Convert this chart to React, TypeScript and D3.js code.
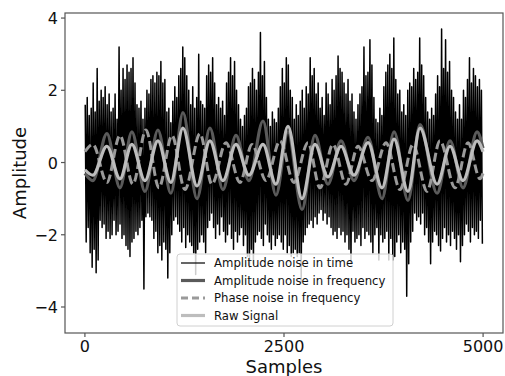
import * as d3 from "d3";

// decimated "Amplitude noise in time" series: max / min of every 25-sample bin
const noiseHi = [
  1.6, 1.8, 1.3,
  1.5, 2.2, 1.4, 2.6, 1.7,
  2.0, 1.8, 2.1, 1.6, 1.9,
  1.4, 1.5, 1.9, 1.2, 3.2,
  2.0, 2.6, 2.3, 2.7, 2.5,
  2.6, 2.9, 2.2, 1.6, 1.5,
  1.7, 1.2, 1.5, 2.0, 1.9,
  2.3, 2.4, 2.2, 2.5, 2.4,
  2.8, 2.2, 2.3, 1.4, 1.5,
  1.1, 1.7, 2.1, 1.8, 2.4,
  2.6, 3.2, 2.9, 2.4, 2.0,
  1.6, 2.1, 1.5, 1.8, 3.0,
  1.7, 1.6, 1.5, 2.4, 2.7,
  2.5, 2.9, 2.2, 1.6, 1.8,
  1.5, 1.7, 1.3, 2.2, 2.5,
  2.9, 2.4, 2.8, 2.0, 1.6,
  1.2, 1.0, 1.3, 1.5, 2.1,
  2.2, 2.6, 2.3, 2.0, 2.5,
  3.6, 2.4, 2.8, 1.8, 1.2,
  1.0, 1.4, 1.2, 1.1, 1.5,
  2.1, 2.6, 2.2, 2.9, 2.7,
  2.0, 1.8, 1.2, 1.6, 1.3,
  1.7, 2.0, 1.5, 2.1, 1.9,
  2.9, 2.4, 2.6, 1.9, 2.2,
  1.5, 1.8, 1.3, 2.2, 1.9,
  1.6, 2.3, 2.0, 2.4, 2.95,
  2.6, 2.5, 2.2, 1.9, 2.3,
  1.7, 1.9, 1.4, 1.2, 1.6,
  1.9, 2.1, 3.2, 2.4, 2.5,
  3.4, 2.7, 1.8, 1.2, 1.1,
  1.5, 1.3, 2.1, 2.5, 2.7,
  3.0, 2.6, 3.45, 2.3, 1.9,
  2.0, 1.4, 1.6, 1.3, 2.0,
  2.2, 2.1, 2.6, 2.3, 2.5,
  3.45, 2.7, 2.4, 1.8, 1.4,
  1.2, 1.5, 1.3, 1.9, 2.4,
  2.1, 3.7, 2.6, 3.4, 2.5,
  2.8, 2.0, 1.8, 1.4, 1.2,
  1.6, 1.2, 2.0, 1.8, 2.3,
  2.9, 2.2, 2.6, 2.4, 2.1,
  2.3, 2.0,
];
const noiseLo = [
  -2.2, -1.8, -2.5,
  -2.9, -2.4, -3.05, -2.7, -1.6,
  -1.8, -1.7, -2.1, -1.9, -2.1,
  -2.0, -1.6, -2.0, -1.9, -1.7,
  -2.1, -2.0, -2.3, -2.4, -2.6,
  -2.2, -2.1, -1.9, -2.0, -1.8,
  -1.6, -3.5, -1.5, -1.4, -1.5,
  -1.6, -2.1, -1.9, -2.5, -2.3,
  -2.7, -2.2, -2.4, -3.2, -2.5,
  -2.0, -1.6, -1.5, -1.7, -1.9,
  -2.2, -1.8, -2.35, -2.0, -2.2,
  -2.3, -2.5, -3.1, -2.4, -2.2,
  -2.0, -2.2, -2.5, -1.8, -1.6,
  -1.4, -1.8, -2.1, -1.7, -2.0,
  -1.5, -1.9, -2.2, -2.0, -1.7,
  -2.1, -2.4, -1.9, -2.2, -2.0,
  -1.8, -2.3, -2.0, -2.6, -2.9,
  -2.4, -2.8, -2.2, -2.0, -1.9,
  -2.1, -2.3, -1.7, -2.0, -2.2,
  -2.4, -2.0, -2.3, -2.1, -2.0,
  -2.2, -2.4, -2.0, -2.5, -2.3,
  -2.6, -2.5, -2.4, -2.6, -2.5,
  -3.3, -2.2, -2.0, -1.8, -1.7,
  -1.6, -1.8, -1.5, -1.7, -1.4,
  -1.3, -1.6, -1.4, -1.7, -1.5,
  -1.8, -2.0, -1.9, -2.1, -1.8,
  -2.0, -1.9, -2.2, -2.0, -2.4,
  -2.8, -1.9, -2.2, -2.1, -2.0,
  -2.3, -1.8, -2.1, -1.9, -2.0,
  -2.2, -2.5, -2.0, -1.8, -2.7,
  -2.0, -2.2, -2.1, -1.9, -2.7,
  -2.1, -2.7, -2.6, -2.2, -2.0,
  -2.5, -2.2, -2.4, -3.7, -2.8,
  -2.2, -1.9, -1.4, -1.6, -1.5,
  -1.7, -1.4, -2.0, -1.8, -2.2,
  -2.8, -2.2, -1.9, -2.0, -2.3,
  -2.45, -2.1, -1.8, -2.2, -2.0,
  -2.3, -1.9, -2.1, -2.4, -2.0,
  -2.75, -2.3, -2.0, -1.7, -1.9,
  -2.2, -1.8, -2.0, -1.9, -2.1,
  -1.6, -2.25,
];
const BIN = 25;

// smooth series, read at their turning points
const rawSamples = [0, 100, 276, 440, 590, 754, 917, 1080, 1231, 1407, 1570, 1733, 1897, 2060, 2236, 2399, 2550, 2726, 2889, 3052, 3216, 3379, 3555, 3731, 3882, 4057, 4208, 4422, 4585, 4748, 4924, 4999];
const rawValues = [-0.2, -0.35, 0.45, -0.45, 0.5, -0.5, 0.6, -0.55, 0.95, -0.65, 0.6, -0.5, 0.5, -0.35, 0.5, -0.6, 1.0, -1.0, 0.5, -0.4, 0.45, -0.35, 0.55, -0.7, 0.65, -0.8, 0.95, -0.6, 0.45, -0.5, 0.6, 0.3];
const ampFreqValues = [-0.3, -0.5, 0.8, -0.7, 0.85, -0.8, 0.9, -0.85, 1.38, -1.0, 0.95, -0.75, 0.75, -0.5, 1.15, -0.9, 0.85, -1.3, 0.75, -0.6, 0.6, -0.5, 0.7, -1.0, 0.85, -1.05, 1.05, -0.85, 0.6, -0.7, 0.85, 0.4];
const phaseSamples = [0, 100, 276, 440, 603, 766, 930, 1093, 1256, 1445, 1595, 1771, 1947, 2098, 2274, 2450, 2625, 2801, 2952, 3115, 3278, 3429, 3605, 3781, 3957, 4120, 4296, 4459, 4647, 4811, 4961, 4999];
const phaseValues = [0.3, 0.5, -0.55, 0.75, -0.6, 0.9, -0.7, 0.75, -0.75, 0.8, -0.6, 0.55, -0.55, 0.5, -0.5, 0.6, -0.55, 0.55, -0.7, 0.5, -0.6, 0.45, -0.5, 0.55, -0.75, 0.5, -0.8, 0.6, -0.7, 0.55, -0.45, -0.3];

const xTicks = [0, 2500, 5000];
const yTicks = [-4, -2, 0, 2, 4];
const legendLabels = [
  "Amplitude noise in time",
  "Amplitude noise in frequency",
  "Phase noise in frequency",
  "Raw Signal",
];

const W = 505;
const H = 376;
const PLOT = { left: 65, right: 503, top: 13, bottom: 333 };
const FONT = "DejaVu Sans, sans-serif";

const STYLES = [
  { stroke: "#000000", width: 1.5, dash: undefined as string | undefined },
  { stroke: "#5a5a5a", width: 3.2, dash: undefined },
  { stroke: "#9a9a9a", width: 3, dash: "9 4" },
  { stroke: "#bdbdbd", width: 3.2, dash: undefined },
];

const App = () => {
  const x = d3.scaleLinear().domain([-250, 5250]).range([PLOT.left, PLOT.right]);
  const y = d3.scaleLinear().domain([-4.72, 4.14]).range([PLOT.bottom, PLOT.top]);

  const noisePts: [number, number][] = [];
  noiseHi.forEach((hi, i) => {
    noisePts.push([i * BIN + 4, hi]);
    noisePts.push([Math.min(i * BIN + 16, 4999), noiseLo[i]]);
  });

  const straight = d3
    .line<[number, number]>()
    .x((d) => x(d[0]))
    .y((d) => y(d[1]));
  const smooth = d3
    .line<[number, number]>()
    .x((d) => x(d[0]))
    .y((d) => y(d[1]))
    .curve(d3.curveMonotoneX);

  const rawPts = rawSamples.map((s, i) => [s, rawValues[i]] as [number, number]);
  const ampPts = rawSamples.map((s, i) => [s, ampFreqValues[i]] as [number, number]);
  const phasePts = phaseSamples.map((s, i) => [s, phaseValues[i]] as [number, number]);

  const series = [
    { d: straight(noisePts), st: STYLES[0] },
    { d: smooth(ampPts), st: STYLES[1] },
    { d: smooth(phasePts), st: STYLES[2] },
    { d: smooth(rawPts), st: STYLES[3] },
  ];

  const lg = { x: 177, y: 254, w: 216, h: 72, row: 17.5 };

  return (
    <svg
      width={W}
      height={H}
      style={{ position: "absolute", left: 0, top: 0, background: "#fff" }}
      fontFamily={FONT}
    >
      <defs>
        <clipPath id="plot-clip">
          <rect
            x={PLOT.left}
            y={PLOT.top}
            width={PLOT.right - PLOT.left}
            height={PLOT.bottom - PLOT.top}
          />
        </clipPath>
      </defs>

      <g clipPath="url(#plot-clip)">
        {series.map((s, i) => (
          <path
            key={i}
            d={s.d ?? ""}
            fill="none"
            stroke={s.st.stroke}
            strokeWidth={s.st.width}
            strokeDasharray={s.st.dash}
            strokeLinejoin="round"
          />
        ))}
      </g>

      {/* frame */}
      <rect
        x={PLOT.left}
        y={PLOT.top}
        width={PLOT.right - PLOT.left}
        height={PLOT.bottom - PLOT.top}
        fill="none"
        stroke="#555"
        strokeWidth={1.2}
      />

      {/* x axis */}
      {xTicks.map((t) => (
        <g key={t}>
          <line x1={x(t)} x2={x(t)} y1={PLOT.bottom} y2={PLOT.bottom + 4} stroke="#555" strokeWidth={1.2} />
          <text x={x(t)} y={PLOT.bottom + 19} textAnchor="middle" fontSize={16} fill="#111">
            {t}
          </text>
        </g>
      ))}
      {/* y axis */}
      {yTicks.map((t) => (
        <g key={t}>
          <line x1={PLOT.left - 4} x2={PLOT.left} y1={y(t)} y2={y(t)} stroke="#555" strokeWidth={1.2} />
          <text x={PLOT.left - 7} y={y(t) + 6} textAnchor="end" fontSize={16} fill="#111">
            {t < 0 ? `\u2212${Math.abs(t)}` : t}
          </text>
        </g>
      ))}

      <text x={(PLOT.left + PLOT.right) / 2} y={373} textAnchor="middle" fontSize={18} fill="#111">
        Samples
      </text>
      <text
        transform={`translate(26, ${(PLOT.top + PLOT.bottom) / 2}) rotate(-90)`}
        textAnchor="middle"
        fontSize={18}
        fill="#111"
      >
        Amplitude
      </text>

      {/* legend */}
      <g>
        <rect
          x={lg.x}
          y={lg.y}
          width={lg.w}
          height={lg.h}
          rx={3}
          fill="#fff"
          fillOpacity={0.8}
          stroke="#d0d0d0"
          strokeWidth={1}
        />
        {legendLabels.map((label, i) => {
          const cy = lg.y + 9 + i * lg.row;
          const st = STYLES[i];
          return (
            <g key={label}>
              <line
                x1={lg.x + 4}
                x2={lg.x + 28}
                y1={cy}
                y2={cy}
                stroke={st.stroke}
                strokeWidth={i === 0 ? 1.2 : st.width}
                strokeDasharray={st.dash ? "7 4" : undefined}
              />
              <text x={lg.x + 37} y={cy + 4.3} fontSize={11.7} fill="#111">
                {label}
              </text>
            </g>
          );
        })}
      </g>
    </svg>
  );
};

export default App;
